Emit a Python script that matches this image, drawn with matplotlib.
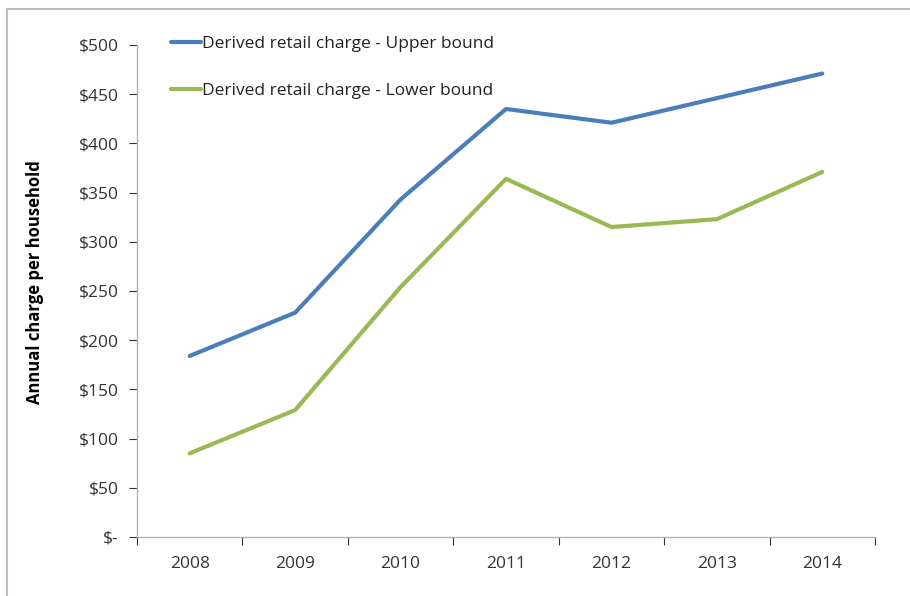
import matplotlib
matplotlib.use("Agg")
import matplotlib.pyplot as plt
from matplotlib.patches import Rectangle
from matplotlib.ticker import FuncFormatter

# Data
years = ["2008", "2009", "2010", "2011", "2012", "2013", "2014"]
upper_bound = [184, 228, 343, 435, 421, 446, 471]
lower_bound = [85, 129, 254, 364, 315, 323, 371]

plt.rcParams["font.family"] = ["Open Sans", "DejaVu Sans"]

fig = plt.figure(figsize=(9.1, 5.96), dpi=100)
W, H = 910, 596
ax = fig.add_axes([137 / W, 1 - 537 / H, (875 - 137) / W, (537 - 45) / H])

# outer chart border (cut off at right and bottom like the screenshot)
fig.patches.append(Rectangle((7 / W, -0.1), 1.2, 1 - 9 / H + 0.1,
                             transform=fig.transFigure, fill=False,
                             edgecolor="#bdbdbd", linewidth=1.5))

x = list(range(len(years)))
ax.plot(x, upper_bound, color="#4a7ebb", linewidth=3,
        label="Derived retail charge - Upper bound", solid_capstyle="round")
ax.plot(x, lower_bound, color="#98b954", linewidth=3,
        label="Derived retail charge - Lower bound", solid_capstyle="round")

ax.set_xlim(-0.5, len(years) - 0.5)
ax.set_ylim(0, 500)
ax.set_yticks(range(0, 501, 50))
ax.yaxis.set_major_formatter(FuncFormatter(lambda v, p: "$-" if v == 0 else f"${v:.0f}"))

# categories centred, tick marks between them
ax.set_xticks([i - 0.5 for i in range(len(years) + 1)])
ax.set_xticklabels([])
ax.set_xticks(x, minor=True)
ax.set_xticklabels(years, minor=True)
ax.tick_params(axis="x", which="minor", length=0, pad=14)
ax.tick_params(axis="x", which="major", length=6, color="#b3b3b3")
ax.tick_params(axis="y", length=6, color="#b3b3b3", pad=7)
ax.tick_params(labelsize=12.5, colors="#333333")
for lbl in ax.get_xticklabels(minor=True):
    lbl.set_fontsize(12.5)
    lbl.set_color("#333333")

for side in ["top", "right"]:
    ax.spines[side].set_visible(False)
for side in ["left", "bottom"]:
    ax.spines[side].set_color("#b3b3b3")
    ax.spines[side].set_linewidth(1)

fig.text(35 / W, 1 - 282 / H, "Annual charge per household", rotation=90,
         fontsize=12, fontweight="bold", ha="center", va="center")

leg = ax.legend(loc="upper left", bbox_to_anchor=(0.025, 1.05), frameon=False,
                fontsize=12.5, handlelength=1.7, handletextpad=0.08,
                labelspacing=1.75)
for t in leg.get_texts():
    t.set_color("#222222")

fig.savefig("out.png", dpi=100)
